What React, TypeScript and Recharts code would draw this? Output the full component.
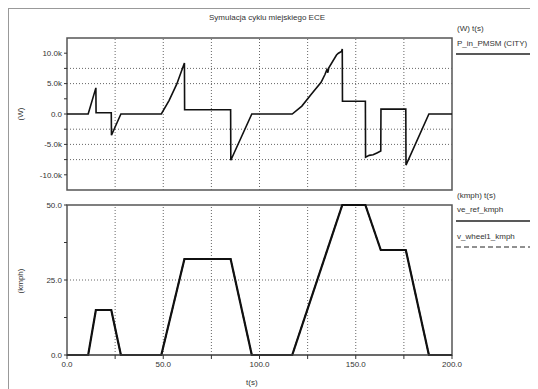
import React from 'react'
import { LineChart, Line, XAxis, YAxis, ReferenceLine, ReferenceArea } from 'recharts'

// P_in_PMSM (CITY), W
const powerTime = [0, 11, 15, 15.1, 23, 23.1, 28, 49, 53, 57, 61, 61.1, 85, 85.1, 96, 117, 122, 127, 132, 134, 135, 135.5, 136, 140, 141, 142.6, 143, 143.1, 155, 155.1, 157, 159, 161, 163, 163.1, 176, 176.1, 188, 200]
const powerW = [0, 0, 4300, 200, 200, -3500, 0, 0, 2200, 4900, 8400, 700, 700, -7600, 0, 0, 1300, 3300, 5200, 6500, 7300, 6800, 7600, 9700, 10000, 10300, 10700, 2100, 2100, -7100, -6800, -6700, -6400, -6100, 800, 800, -8400, 0, 0]

// ECE-15 speed, km/h
const speedTime = [0, 11, 15, 23, 28, 49, 61, 85, 96, 117, 143, 155, 163, 176, 188, 200]
const speedRef = [0, 0, 15, 15, 0, 0, 32, 32, 0, 0, 50, 50, 35, 35, 0, 0]
const speedWheel = [0, 0, 15, 15, 0, 0, 32, 32, 0, 0, 50, 50, 35, 35, 0, 0]

const timeTicks = [0, 25, 50, 75, 100, 125, 150, 175, 200]
const timeLabels = ['0.0', '', '50.0', '', '100.0', '', '150.0', '', '200.0']
const timeGrid = [25, 50, 75, 100, 125, 150, 175]

const powerTicks = [-10000, -7500, -5000, -2500, 0, 2500, 5000, 7500, 10000]
const powerLabels = ['-10.0k', '', '-5.0k', '', '0.0', '', '5.0k', '', '10.0k']
const powerGrid = [7500, 5000, -2500, -5000, -7500]

const speedTicks = [0, 12.5, 25, 37.5, 50]
const speedLabels = ['0.0', '', '25.0', '', '50.0']
const speedGrid = [25]

const powerData = powerTime.map((t, i) => ({ t, p: powerW[i] }))
const speedData = speedTime.map((t, i) => ({ t, ref: speedRef[i], wheel: speedWheel[i] }))

const FONT = '"Liberation Sans", Arial, sans-serif'
const INK = '#333'
const tickStyle = { fontSize: 8, fill: INK, fontFamily: FONT }
const gridProps = { stroke: '#666', strokeDasharray: '1 2', strokeWidth: 1 }

const txt = (s: string, left: number, top: number, extra: React.CSSProperties = {}) => (
  <div style={{ position: 'absolute', left, top, fontSize: 8, lineHeight: '10px', color: INK, fontFamily: FONT, whiteSpace: 'nowrap', ...extra }}>{s}</div>
)

export default function App() {
  return (
    <div style={{ position: 'relative', width: 530, height: 381, borderTop: '1px solid #999', borderLeft: '1px solid #999', boxSizing: 'border-box', overflow: 'hidden', background: '#fff' }}>
      {txt('Symulacja cyklu miejskiego ECE', 200, 4, { width: 110, textAlign: 'center' })}

      <div style={{ position: 'absolute', left: 0, top: 0 }}>
        <LineChart width={530} height={200} data={powerData} margin={{ top: 29, right: 87, bottom: 19, left: 8 }}>
          <XAxis dataKey="t" type="number" domain={[0, 200]} ticks={timeTicks} hide />
          <YAxis type="number" domain={[-12500, 12500]} ticks={powerTicks} interval={0} width={50}
            tick={tickStyle} tickSize={3} tickLine={{ stroke: INK }} axisLine={false}
            tickFormatter={(v: number) => powerLabels[powerTicks.indexOf(v)] ?? ''} />
          {timeGrid.map(x => <ReferenceLine key={'vx' + x} x={x} {...gridProps} />)}
          {powerGrid.map(y => <ReferenceLine key={'hy' + y} y={y} {...gridProps} />)}
          <ReferenceArea x1={0} x2={200} y1={-12500} y2={12500} fill="none" stroke="#555" strokeWidth={1.5} />
          <Line dataKey="p" type="linear" stroke="#111" strokeWidth={1.6} dot={false} isAnimationActive={false} />
        </LineChart>
      </div>

      <div style={{ position: 'absolute', left: 0, top: 180 }}>
        <LineChart width={530} height={200} data={speedData} margin={{ top: 16, right: 87, bottom: 4, left: 8 }}>
          <XAxis dataKey="t" type="number" domain={[0, 200]} ticks={timeTicks} interval={0} height={30}
            tick={tickStyle} tickSize={4} tickLine={{ stroke: INK }} axisLine={{ stroke: '#555' }}
            tickFormatter={(v: number) => timeLabels[timeTicks.indexOf(v)] ?? ''} />
          <YAxis type="number" domain={[0, 50]} ticks={speedTicks} interval={0} width={50}
            tick={tickStyle} tickSize={3} tickLine={{ stroke: INK }} axisLine={false}
            tickFormatter={(v: number) => speedLabels[speedTicks.indexOf(v)] ?? ''} />
          {timeGrid.map(x => <ReferenceLine key={'vx' + x} x={x} {...gridProps} />)}
          {speedGrid.map(y => <ReferenceLine key={'hy' + y} y={y} {...gridProps} />)}
          <ReferenceArea x1={0} x2={200} y1={0} y2={50} fill="none" stroke="#555" strokeWidth={1.5} />
          <Line dataKey="ref" type="linear" stroke="#111" strokeWidth={2.2} dot={false} isAnimationActive={false} />
          <Line dataKey="wheel" type="linear" stroke="#111" strokeWidth={1.4} strokeDasharray="4 2" dot={false} isAnimationActive={false} />
        </LineChart>
      </div>

      {txt('(W)', 6, 100, { transform: 'rotate(-90deg)', transformOrigin: 'center' })}
      {txt('(kmph)', 0, 267, { transform: 'rotate(-90deg)', transformOrigin: 'center' })}
      {txt('t(s)', 237, 369)}

      {txt('(W)   t(s)', 448, 15)}
      {txt('P_in_PMSM (CITY)', 448, 30)}
      {txt('(kmph)   t(s)', 448, 182)}
      {txt('ve_ref_kmph', 448, 196)}
      {txt('v_wheel1_kmph', 448, 223)}
      <svg style={{ position: 'absolute', left: 446, top: 0 }} width={84} height={250}>
        <line x1={1} x2={84} y1={45} y2={45} stroke="#222" strokeWidth={1.3} />
        <line x1={1} x2={84} y1={212} y2={212} stroke="#222" strokeWidth={1.6} />
        <line x1={1} x2={84} y1={238} y2={238} stroke="#222" strokeWidth={1} strokeDasharray="5 3" />
      </svg>
    </div>
  )
}
